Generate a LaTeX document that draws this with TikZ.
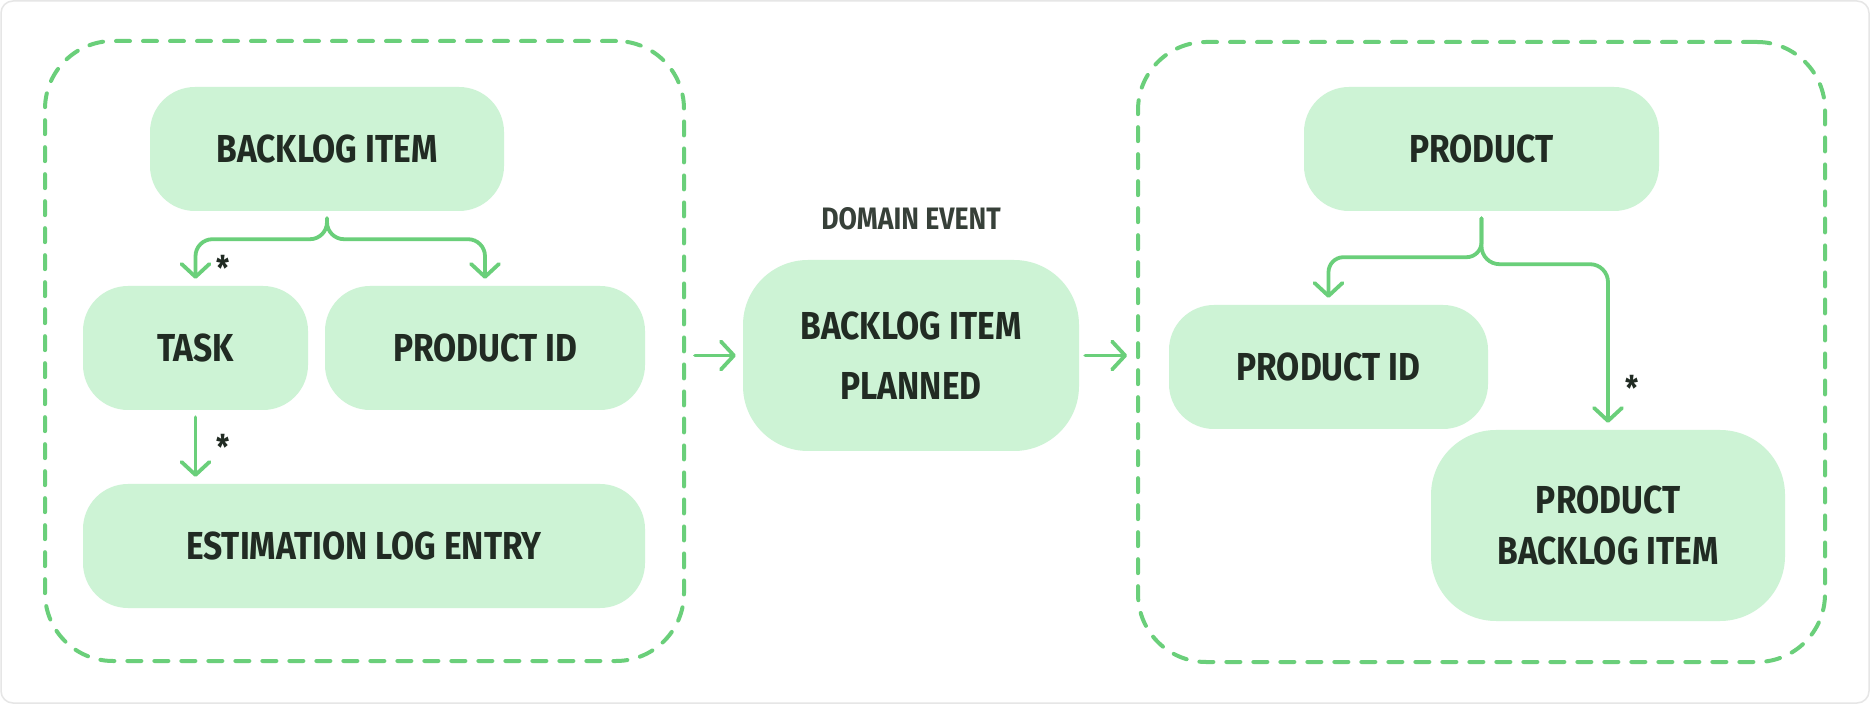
\documentclass[tikz,border=0pt]{standalone}
\usepackage{fontspec}
\setmainfont{Fira Sans}[FakeStretch=0.86]
\usetikzlibrary{arrows.meta,positioning}

\definecolor{boxgreen}{RGB}{205,243,213}
\definecolor{linkgreen}{RGB}{106,207,122}
\definecolor{inkdark}{RGB}{33,43,35}
\definecolor{framegray}{RGB}{230,230,230}

\begin{document}
\begin{tikzpicture}[x=1pt,y=1pt,
    box/.style={fill=boxgreen,text=inkdark,inner sep=0pt,align=center,
      font=\bfseries\fontsize{39}{51}\selectfont,rounded corners=45pt,
      minimum height=124pt},
    tallbox/.style={box,rounded corners=65pt,minimum height=191pt},
    group/.style={draw=linkgreen,line width=4pt,dash pattern=on 14pt off 13pt,
      line cap=round,rounded corners=68pt,inner sep=0pt},
    link/.style={draw=linkgreen,line width=3.8pt,line cap=round,line join=round,
      rounded corners=17pt,-{Straight Barb[length=13pt,width=28pt,round]}},
    mult/.style={text=inkdark,font=\bfseries\fontsize{34}{34}\selectfont,inner sep=0pt}]

        % Canvas
        \fill[white] (0,0) rectangle (1870,704);
        \useasboundingbox (0,0) rectangle (1870,704);
        \draw[framegray,line width=1.5pt,rounded corners=12pt] (1,1) rectangle (1869,703);

        % Left aggregate
        \node[group,minimum width=639pt,minimum height=620pt] (gl) at (364.5,353) {};
        \node[box,minimum width=354pt] (bl) at (327,555) {BACKLOG ITEM};
        \node[box,minimum width=225pt] (task) at (195.5,356) {TASK};
        \node[box,minimum width=320pt] (pidl) at (485,356) {PRODUCT ID};
        \node[box,minimum width=562pt] (est) at (364,158) {ESTIMATION LOG ENTRY};

        % Domain event
        \node[tallbox,minimum width=336pt] (event) at (911,348.5) {BACKLOG ITEM\\[9pt]PLANNED};
        \node[text=inkdark!90,inner sep=0pt,font=\bfseries\fontsize{31}{31}\selectfont,
          above=30pt of event] (evlabel) {DOMAIN EVENT};

        % Right aggregate
        \node[group,minimum width=687pt,minimum height=620pt] (gr) at (1481.5,352) {};
        \node[box,minimum width=355pt] (prod) at (1481.5,555) {PRODUCT};
        \node[box,minimum width=319pt] (pidr) at (1328.5,337) {PRODUCT ID};
        \node[tallbox,minimum width=354pt] (pbi) at (1608,178.5) {PRODUCT\\BACKLOG ITEM};

        % Draw links inside the left aggregate
        \draw[link,shorten >=7pt] ([yshift=-7pt]bl.south) -- ++(0,-21) -| (task.north);
        \draw[link,shorten >=7pt] ([yshift=-7pt]bl.south) -- ++(0,-21) -| (pidl.north);
        \draw[link,shorten <=7pt,shorten >=7pt] (task.south) -- (task.south |- est.north);

        % Draw links inside the right aggregate
        \draw[link,rounded corners=15pt,shorten >=7pt] ([yshift=-7pt]prod.south) -- ++(0,-39) -| (pidr.north);
        \draw[link,rounded corners=18pt,shorten >=7pt] ([yshift=-7pt]prod.south) -- ++(0,-46) -| (pbi.north);

        % Draw links through the event
        \draw[link,shorten <=9pt,shorten >=7pt] (event.west -| gl.east) -- (event.west);
        \draw[link,shorten <=6pt,shorten >=9pt] (event.east) -- (event.east -| gr.west);

        % Multiplicities
        \node[mult] (m1) at (223,436) {*};
        \node[mult] (m2) at (223,257) {*};
        \node[mult] (m3) at (1632,316) {*};
      \end{tikzpicture}
\end{document}
